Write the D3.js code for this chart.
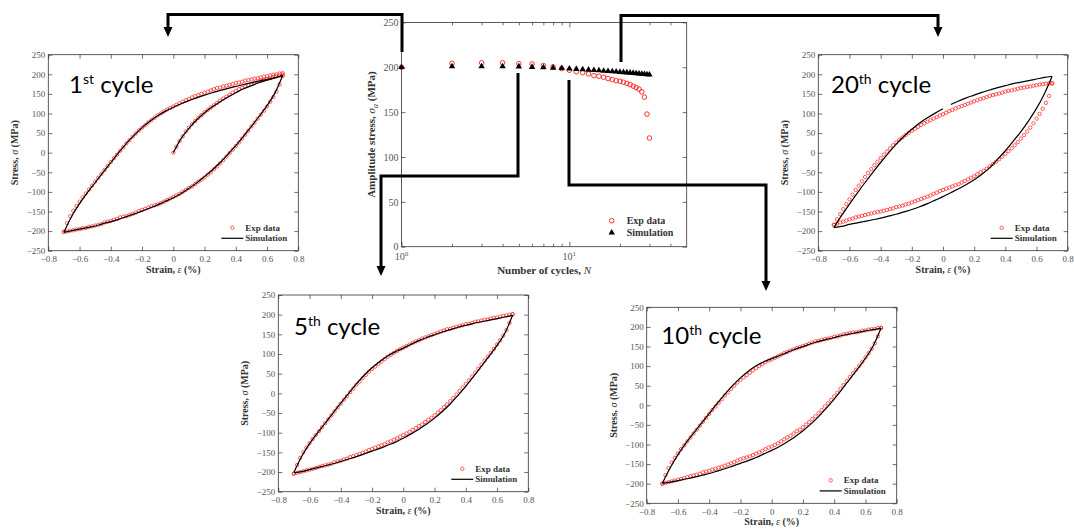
<!DOCTYPE html>
<html>
<head>
<meta charset="utf-8">
<script src="https://cdn.jsdelivr.net/npm/d3@7"></script>
<style>
  body { margin: 0; background: #fff; }
  svg { display: block; }
</style>
</head>
<body>
<div id="container"></div>
<script>
// ---------- DATA ----------
// strain grid of the experimental points (%)
let expStrain = [-0.70,-0.68,-0.66,-0.64,-0.62,-0.60,-0.58,-0.56,-0.54,-0.52,
  -0.50,-0.48,-0.46,-0.44,-0.42,-0.40,-0.38,-0.36,-0.34,-0.32,
  -0.30,-0.28,-0.26,-0.24,-0.22,-0.20,-0.18,-0.16,-0.14,-0.12,
  -0.10,-0.08,-0.06,-0.04,-0.02,0.00,0.02,0.04,0.06,0.08,
  0.10,0.12,0.14,0.16,0.18,0.20,0.22,0.24,0.26,0.28,
  0.30,0.32,0.34,0.36,0.38,0.40,0.42,0.44,0.46,0.48,
  0.50,0.52,0.54,0.56,0.58,0.60,0.62,0.64,0.66,0.68,
  0.70];
// strain grid of the simulation curves (%)
let simStrain = [-0.70,-0.65,-0.60,-0.55,-0.50,-0.45,-0.40,-0.35,-0.30,-0.25,-0.20,-0.15,-0.10,-0.05,
  0.00,0.05,0.10,0.15,0.20,0.25,0.30,0.35,0.40,0.45,0.50,0.55,0.60,0.65,0.70];
// first loading (1st cycle only)
let initStrain = [0.00,0.02,0.04,0.06,0.08,0.10,0.12,0.14,0.16,0.18,0.20,0.22,0.24,0.26,0.28,0.30,0.32,0.34,
  0.36,0.38,0.40,0.42,0.44,0.46,0.48,0.50,0.52,0.54,0.56,0.58,0.60,0.62,0.64,0.66,0.68,0.70];
let initSimStrain = [0.00,0.05,0.10,0.15,0.20,0.25,0.30,0.35,0.40,0.45,0.50,0.55,0.60,0.65,0.70];

// 1st cycle (MPa)
let c1ExpUp = [-202,-180,-162,-148,-136,-125,-114,-104,-94,-84,
  -74,-64,-54,-44,-34,-24,-14,-5,5,14,
  24,32,41,49,57,64,70,77,83,89,
  95,100,105,110,114,118,122,126,130,134,
  137,141,144,147,150,153,156,159,162,165,
  166,169,171,173,175,178,179,181,184,185,
  187,189,190,192,194,195,197,199,200,202,
  203];
let c1ExpLo = [-202,-201,-199,-198,-196,-195,-193,-192,-189,-188,
  -186,-184,-182,-178,-176,-174,-171,-169,-165,-163,
  -162,-159,-156,-153,-149,-146,-143,-140,-137,-134,
  -132,-129,-125,-121,-117,-113,-109,-105,-100,-95,
  -90,-86,-80,-74,-69,-63,-56,-50,-42,-35,
  -27,-19,-10,-1,8,17,26,36,46,56,
  67,77,87,97,107,118,130,142,156,174,
  196];
let c1ExpInit = [0,15,30,42,54,64,73,81,89,96,103,109,115,121,127,133,138,143,148,153,
  158,162,166,169,172,175,178,181,184,186,188,190,193,195,197,199];
let c1SimUp = [-203,-162,-130,-102,-76,-50,-25,0,24,45,64,80,94,106,
  116,125,133,140,147,153,159,164,169,174,178,183,187,191,197];
let c1SimLo = [-203,-199,-195,-191,-187,-181,-176,-170,-163,-156,-149,-141,-133,-124,
  -115,-104,-91,-77,-61,-44,-25,-4,18,42,67,93,120,152,197];
let c1SimInit = [0,36,62,84,102,117,130,142,153,163,171,179,185,191,197];

// 5th cycle
let c5ExpUp = [-204,-182,-164,-150,-138,-127,-116,-106,-96,-86,
  -76,-66,-56,-46,-36,-26,-16,-7,3,12,
  22,30,39,47,55,62,68,75,81,87,
  93,98,103,108,112,116,120,124,128,132,
  135,139,142,145,148,151,154,157,160,163,
  164,167,169,171,173,176,177,179,182,183,
  185,187,188,190,192,193,195,197,198,200,
  201];
let c5ExpLo = [-204,-202,-200,-198,-196,-194,-192,-190,-187,-185,
  -183,-181,-179,-175,-173,-171,-168,-166,-162,-160,
  -157,-154,-151,-148,-144,-141,-138,-135,-132,-129,
  -125,-122,-118,-114,-110,-106,-102,-98,-93,-88,
  -83,-79,-73,-67,-62,-56,-49,-43,-35,-28,
  -20,-12,-3,6,15,24,33,43,53,63,
  73,83,93,103,113,124,135,147,161,179,
  201];
let c5SimUp = [-201,-160,-128,-101,-76,-50,-25,0,24,46,65,81,95,106,
  115,125,134,142,149,156,162,168,173,178,182,186,190,194,198];
let c5SimLo = [-202,-199,-194,-189,-184,-179,-173,-167,-161,-154,-147,-140,-132,-124,
  -114,-103,-91,-78,-63,-46,-27,-5,18,43,69,95,122,153,199];

// 10th cycle
let c10ExpUp = [-200,-178,-160,-146,-134,-123,-112,-102,-92,-82,
  -72,-62,-52,-42,-32,-22,-12,-3,6,15,
  25,33,42,50,58,65,71,77,83,89,
  95,100,105,110,114,117,121,125,129,133,
  136,140,143,146,148,151,154,157,160,163,
  164,167,169,170,172,175,176,178,181,182,
  184,186,186,188,190,191,193,194,195,197,
  198];
let c10ExpLo = [-200,-198,-196,-194,-192,-190,-188,-186,-183,-181,
  -179,-177,-175,-171,-169,-167,-164,-162,-159,-157,
  -154,-151,-148,-145,-141,-138,-135,-133,-130,-127,
  -123,-120,-116,-112,-108,-105,-101,-97,-92,-87,
  -82,-78,-72,-66,-62,-56,-49,-43,-35,-28,
  -20,-12,-3,5,14,23,32,42,52,62,
  72,82,91,101,111,122,133,144,158,176,
  197];
let c10SimUp = [-199,-160,-126,-97,-71,-46,-21,4,28,50,70,87,101,111,
  119,127,135,143,150,157,163,168,173,178,182,186,190,193,197];
let c10SimLo = [-199,-196,-192,-188,-184,-179,-174,-168,-162,-155,-148,-141,-133,-124,
  -115,-105,-93,-80,-65,-48,-29,-7,16,41,67,93,120,152,197];

// 20th cycle
let c20ExpUp = [-184,-170,-157,-144,-131,-119,-107,-95,-84,-73,
  -62,-52,-42,-32,-23,-14,-5,3,11,19,
  26,33,39,45,51,56,61,66,71,75,
  79,83,87,91,95,98,102,106,109,113,
  116,119,122,125,128,131,134,137,139,142,
  145,147,149,151,153,156,158,159,161,163,
  165,166,168,169,171,172,174,175,176,177,
  178];
let c20ExpLo = [-184,-181,-178,-176,-173,-170,-168,-165,-163,-161,
  -159,-157,-155,-153,-151,-150,-148,-146,-144,-142,
  -139,-137,-135,-132,-130,-127,-124,-121,-118,-115,
  -112,-109,-105,-102,-98,-95,-92,-89,-86,-83,
  -80,-76,-72,-68,-64,-60,-55,-50,-46,-41,
  -35,-29,-23,-17,-10,-3,4,11,19,27,
  36,45,54,64,75,87,99,112,127,145,
  176];
let c20SimUp = [-191,-160,-131,-103,-76,-50,-25,-1,22,42,60,76,89,101,
  112,123,132,140,147,154,160,166,171,176,180,184,188,192,195];
let c20SimLo = [-191,-188,-183,-179,-175,-171,-167,-162,-157,-151,-145,-138,-130,-121,
  -112,-102,-92,-81,-69,-55,-38,-17,5,29,54,82,113,150,195];

// amplitude stress vs number of cycles
let cycles = [1,2,3,4,5,6,7,8,9,10,11,12,13,14,15,16,17,18,19,20,21,22,23,24,25,26,27,28,29,30];
let expAmp = [200,204.4,205,205,204,203.7,201.9,200.4,198.5,196.7,195,194,192.6,190.7,190,
  188.9,187.4,186.3,185,184.4,183.3,182,180.7,179,177.4,175.6,172.6,166.7,147.8,121.1];
let simAmp = [200,201,201,201,200.8,200.2,199.8,199.4,199,198.4,198,197.6,197.2,196.8,196.4,
  196,195.7,195.3,195,194.7,194.4,194.1,193.8,193.5,193.2,192.9,192.6,192.3,192,191.7];

// tick labels
let stressTicks = [-250,-200,-150,-100,-50,0,50,100,150,200,250];
let strainTicks = [-0.8,-0.6,-0.4,-0.2,0,0.2,0.4,0.6,0.8];
let ampTicks = [0,50,100,150,200,250];
let cycleMajor = [1,10];
let cycleMinor = [2,3,4,5,6,7,8,9,20,30,40];

// ---------- SVG ----------
let w = 1074;
let h = 530;
let viz = d3.select("#container").append("svg")
  .attr("width", w)
  .attr("height", h)
  .style("background-color", "white");

let serif = "'Liberation Serif', 'DejaVu Serif', serif";
let tickColor = "#555";
let frameColor = "#333";

function pairs(xs, ys) {
  return xs.map(function(d, i){ return [d, ys[i]]; });
}

function drawLoop(p) {
  let x = d3.scaleLinear().domain([-0.8, 0.8]).range([p.left, p.right]);
  let y = d3.scaleLinear().domain([-250, 250]).range([p.bottom, p.top]);
  let g = viz.append("g");

  let fmt = function(d){ return d === 0 ? "0" : d3.format(".1f")(d); };

  // axes, ticks pointing inward on all four sides
  g.append("g").attr("transform", "translate(0," + p.bottom + ")")
    .call(d3.axisBottom(x).tickValues(strainTicks).tickSize(-4).tickPadding(5).tickFormat(fmt));
  g.append("g").attr("transform", "translate(0," + p.top + ")")
    .call(d3.axisTop(x).tickValues(strainTicks).tickSize(-4).tickFormat(""));
  g.append("g").attr("transform", "translate(" + p.left + ",0)")
    .call(d3.axisLeft(y).tickValues(stressTicks).tickSize(-4).tickPadding(3).tickFormat(d3.format("d")));
  g.append("g").attr("transform", "translate(" + p.right + ",0)")
    .call(d3.axisRight(y).tickValues(stressTicks).tickSize(-4).tickFormat(""));
  g.selectAll(".domain").remove();
  g.selectAll(".tick line").attr("stroke", frameColor).attr("stroke-width", 0.7);
  g.selectAll(".tick text").attr("fill", tickColor).style("font-family", serif).style("font-size", "9px");

  g.append("rect")
    .attr("x", p.left).attr("y", p.top)
    .attr("width", p.right - p.left).attr("height", p.bottom - p.top)
    .attr("fill", "none").attr("stroke", frameColor).attr("stroke-width", 0.8);

  // axis titles
  let xl = g.append("text")
    .attr("x", (p.left + p.right) / 2).attr("y", p.bottom + 22)
    .attr("text-anchor", "middle").attr("fill", "#333")
    .style("font-family", serif).style("font-size", "10px").style("font-weight", "bold");
  xl.append("tspan").text("Strain,  ");
  xl.append("tspan").text("ε").style("font-style", "italic").style("font-weight", "normal");
  xl.append("tspan").text(" (%)");

  let yl = g.append("text")
    .attr("transform", "translate(" + (p.left - 30) + "," + ((p.top + p.bottom) / 2) + ") rotate(-90)")
    .attr("text-anchor", "middle").attr("fill", "#333")
    .style("font-family", serif).style("font-size", "10px").style("font-weight", "bold");
  yl.append("tspan").text("Stress,  ");
  yl.append("tspan").text("σ").style("font-style", "italic").style("font-weight", "normal");
  yl.append("tspan").text(" (MPa)");

  // experimental circles
  let expPts = pairs(expStrain, p.expUp).concat(pairs(expStrain, p.expLo));
  if (p.expInit) expPts = expPts.concat(pairs(initStrain, p.expInit));
  g.selectAll(".exp").data(expPts).enter()
    .append("circle")
    .attr("class", "exp")
    .attr("cx", function(d){ return x(d[0]); })
    .attr("cy", function(d){ return y(d[1]); })
    .attr("r", 1.7)
    .attr("fill", "none")
    .attr("stroke", "#ff1a1a")
    .attr("stroke-width", 0.7);

  // simulation lines
  let line = d3.line()
    .x(function(d){ return x(d[0]); })
    .y(function(d){ return y(d[1]); })
    .curve(d3.curveCatmullRom.alpha(0.5));

  let curves = [pairs(simStrain, p.simLo)];
  let up = pairs(simStrain, p.simUp);
  if (p.gap) {
    // the 20th-cycle simulation has a short break just after zero strain
    curves.push(up.filter(function(d){ return d[0] <= 0.001; }));
    curves.push(up.filter(function(d){ return d[0] >= 0.049; }));
  } else {
    curves.push(up);
  }
  if (p.simInit) curves.push(pairs(initSimStrain, p.simInit));
  g.selectAll(".sim").data(curves).enter()
    .append("path")
    .attr("class", "sim")
    .attr("d", line)
    .attr("fill", "none")
    .attr("stroke", "black")
    .attr("stroke-width", 1.2);

  // legend
  let lx = p.right - 66, ly = p.bottom - 23;
  g.append("circle").attr("cx", lx).attr("cy", ly).attr("r", 1.7)
    .attr("fill", "none").attr("stroke", "#ff1a1a").attr("stroke-width", 0.7);
  g.append("line").attr("x1", lx - 11).attr("x2", lx + 11).attr("y1", ly + 10.6).attr("y2", ly + 10.6)
    .attr("stroke", "black").attr("stroke-width", 1.2);
  g.append("text").attr("x", lx + 13).attr("y", ly + 3).text("Exp data")
    .attr("fill", "#333").style("font-family", serif).style("font-size", "9px").style("font-weight", "bold");
  g.append("text").attr("x", lx + 13).attr("y", ly + 13.6).text("Simulation")
    .attr("fill", "#333").style("font-family", serif).style("font-size", "9px").style("font-weight", "bold");

  // panel title
  let t = g.append("text").attr("x", p.tx).attr("y", p.ty)
    .attr("fill", "black").style("font-family", "Lato, 'Open Sans', sans-serif").style("font-size", "24px");
  t.append("tspan").text(p.num);
  t.append("tspan").text(p.suf).attr("dy", -9).style("font-size", "14px");
  t.append("tspan").text(" cycle").attr("dy", 9);
}

drawLoop({left: 48.3, right: 298.3, top: 54.7, bottom: 250.7, tx: 69, ty: 92.7, num: "1", suf: "st",
  expUp: c1ExpUp, expLo: c1ExpLo, expInit: c1ExpInit, simUp: c1SimUp, simLo: c1SimLo, simInit: c1SimInit});
drawLoop({left: 818.3, right: 1067.7, top: 54.7, bottom: 250.7, tx: 831, ty: 92.7, num: "20", suf: "th",
  expUp: c20ExpUp, expLo: c20ExpLo, simUp: c20SimUp, simLo: c20SimLo, gap: true});
drawLoop({left: 278.3, right: 528.3, top: 295, bottom: 491.7, tx: 294, ty: 335, num: "5", suf: "th",
  expUp: c5ExpUp, expLo: c5ExpLo, simUp: c5SimUp, simLo: c5SimLo});
drawLoop({left: 646.7, right: 896.7, top: 307.3, bottom: 503.3, tx: 661.3, ty: 343.7, num: "10", suf: "th",
  expUp: c10ExpUp, expLo: c10ExpLo, simUp: c10SimUp, simLo: c10SimLo});

// ---------- CENTER: amplitude stress vs cycles ----------
let cL = 401.5, cR = 686.7, cT = 22.4, cB = 246.7;
let xN = d3.scaleLog().domain([1, 50]).range([cL, cR]);
let yA = d3.scaleLinear().domain([0, 250]).range([cB, cT]);
let cg = viz.append("g");

cg.append("g").attr("transform", "translate(0," + cB + ")")
  .call(d3.axisBottom(xN).tickValues(cycleMajor).tickSize(-5).tickFormat(""));
cg.append("g").attr("transform", "translate(0," + cB + ")")
  .call(d3.axisBottom(xN).tickValues(cycleMinor).tickSize(-3).tickFormat(""));
cg.append("g").attr("transform", "translate(0," + cT + ")")
  .call(d3.axisTop(xN).tickValues(cycleMajor).tickSize(-5).tickFormat(""));
cg.append("g").attr("transform", "translate(0," + cT + ")")
  .call(d3.axisTop(xN).tickValues(cycleMinor).tickSize(-3).tickFormat(""));
cg.append("g").attr("transform", "translate(" + cL + ",0)")
  .call(d3.axisLeft(yA).tickValues(ampTicks).tickSize(-4).tickPadding(3).tickFormat(d3.format("d")));
cg.append("g").attr("transform", "translate(" + cR + ",0)")
  .call(d3.axisRight(yA).tickValues(ampTicks).tickSize(-4).tickFormat(""));
cg.selectAll(".domain").remove();
cg.selectAll(".tick line").attr("stroke", frameColor).attr("stroke-width", 0.7);
cg.selectAll(".tick text").attr("fill", tickColor).style("font-family", serif).style("font-size", "10px");

cg.append("rect").attr("x", cL).attr("y", cT).attr("width", cR - cL).attr("height", cB - cT)
  .attr("fill", "none").attr("stroke", frameColor).attr("stroke-width", 0.8);

// 10^0, 10^1 labels
cycleMajor.forEach(function(d, i){
  let t = cg.append("text").attr("x", xN(d)).attr("y", cB + 13).attr("text-anchor", "middle")
    .attr("fill", tickColor).style("font-family", serif).style("font-size", "10px");
  t.append("tspan").text("10");
  t.append("tspan").text(String(i)).attr("dy", -4).style("font-size", "7px");
});

let nl = cg.append("text").attr("x", (cL + cR) / 2).attr("y", cB + 27).attr("text-anchor", "middle")
  .attr("fill", "#333").style("font-family", serif).style("font-size", "11px").style("font-weight", "bold");
nl.append("tspan").text("Number of cycles,  ");
nl.append("tspan").text("N").style("font-style", "italic").style("font-weight", "normal");

let al = cg.append("text").attr("transform", "translate(" + (cL - 27) + "," + ((cT + cB) / 2) + ") rotate(-90)")
  .attr("text-anchor", "middle").attr("fill", "#333")
  .style("font-family", serif).style("font-size", "11px").style("font-weight", "bold");
al.append("tspan").text("Amplitude stress,  ");
al.append("tspan").text("σ").style("font-style", "italic").style("font-weight", "normal");
al.append("tspan").text("a").attr("dy", 3).style("font-style", "italic").style("font-weight", "normal").style("font-size", "8px");
al.append("tspan").text(" (MPa)").attr("dy", -3);

cg.selectAll(".amp").data(cycles).enter()
  .append("circle")
  .attr("cx", function(d){ return xN(d); })
  .attr("cy", function(d, i){ return yA(expAmp[i]); })
  .attr("r", 2.3)
  .attr("fill", "none").attr("stroke", "#ff1a1a").attr("stroke-width", 0.9);

cg.selectAll(".tri").data(cycles).enter()
  .append("path")
  .attr("d", d3.symbol().type(d3.symbolTriangle).size(18))
  .attr("transform", function(d, i){ return "translate(" + xN(d) + "," + yA(simAmp[i]) + ")"; })
  .attr("fill", "black");

// legend
cg.append("circle").attr("cx", 611.7).attr("cy", 220.7).attr("r", 2.3)
  .attr("fill", "none").attr("stroke", "#ff1a1a").attr("stroke-width", 0.9);
cg.append("path").attr("d", d3.symbol().type(d3.symbolTriangle).size(18))
  .attr("transform", "translate(611.7,232.7)").attr("fill", "black");
cg.append("text").attr("x", 626.7).attr("y", 224).text("Exp data")
  .attr("fill", "#333").style("font-family", serif).style("font-size", "10px").style("font-weight", "bold");
cg.append("text").attr("x", 626.7).attr("y", 236).text("Simulation")
  .attr("fill", "#333").style("font-family", serif).style("font-size", "10px").style("font-weight", "bold");

// ---------- CONNECTOR ARROWS ----------
let arrows = [
  {pts: [[402, 52], [402, 14.5], [168, 14.5], [168, 28]], tip: [168, 37]},
  {pts: [[621, 62], [621, 15.5], [938, 15.5], [938, 28]], tip: [938, 37]},
  {pts: [[518, 73], [518, 176], [381, 176], [381, 267]], tip: [381, 276]},
  {pts: [[569, 80], [569, 185], [766, 185], [766, 282]], tip: [766, 291]}
];
arrows.forEach(function(a){
  viz.append("path")
    .attr("d", d3.line()(a.pts))
    .attr("fill", "none").attr("stroke", "black").attr("stroke-width", 3)
    .attr("stroke-linejoin", "miter").attr("stroke-linecap", "butt");
  let tx = a.tip[0], ty = a.tip[1];
  viz.append("path")
    .attr("d", "M" + (tx - 4.5) + "," + (ty - 10) + "L" + (tx + 4.5) + "," + (ty - 10) + "L" + tx + "," + ty + "Z")
    .attr("fill", "black");
});
</script>
</body>
</html>
